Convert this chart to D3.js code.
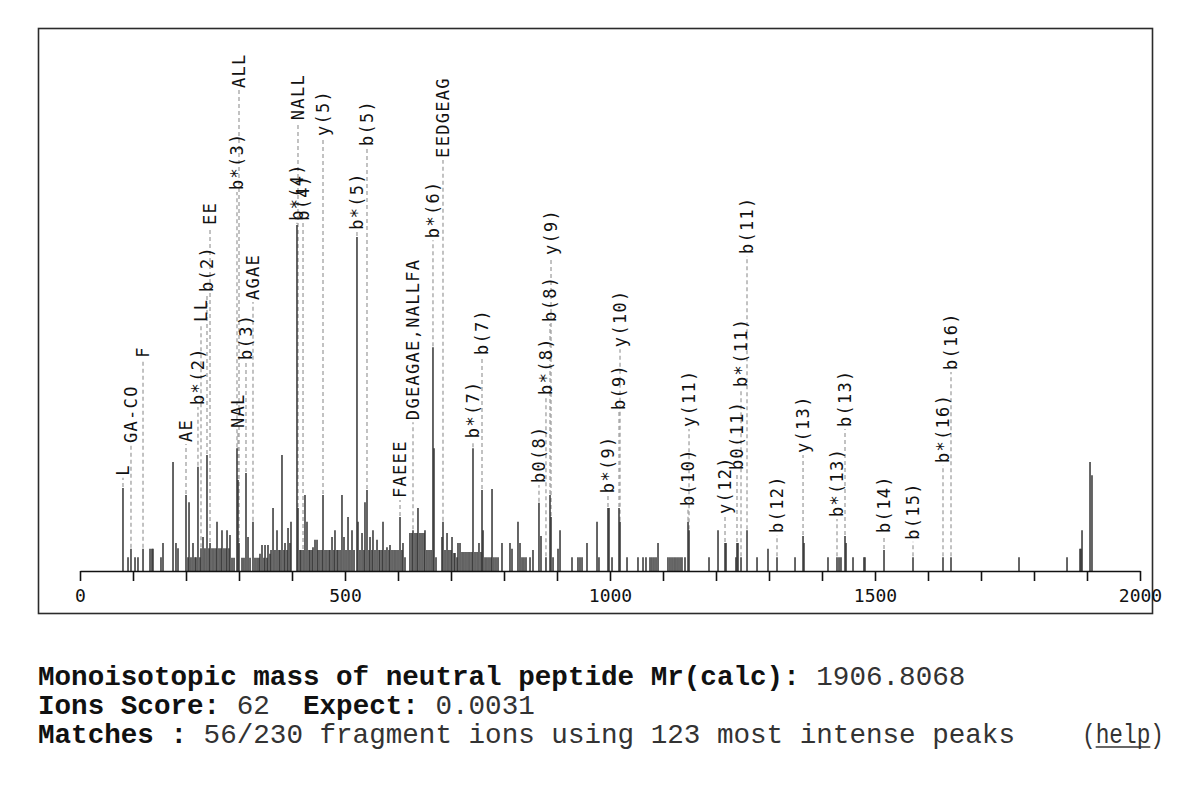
<!DOCTYPE html>
<html><head><meta charset="utf-8">
<script src="https://cdn.jsdelivr.net/npm/d3@7"></script>
<style>
html,body{margin:0;padding:0;background:#fff;}
svg{display:block;}
</style></head><body>
<svg id="chart" width="1200" height="790"></svg>
<script>
// m/z and relative intensity (% of base peak) of each fragment peak
const peaks = [
[81.1,24.0],[90.6,4.0],[96.2,6.4],[103.8,4.0],[109.4,4.0],[118.9,6.4],[132.1,6.4],[135.8,6.4],[137.7,6.4],[152.8,4.0],[156.6,8.1],[175.5,31.5],[181.1,8.1],[184.9,6.6],
[200.0,22.0],[203.8,4.0],[205.7,19.9],[209.4,4.0],[213.2,8.1],[217.0,4.0],[218.9,4.0],[222.6,30.1],[226.4,4.0],[228.3,6.6],[232.1,9.8],[235.8,6.6],[239.6,33.5],[243.4,6.6],[245.3,8.1],[249.1,6.6],[252.8,6.6],[256.6,6.6],[258.5,14.2],[262.3,6.6],[266.0,6.6],[267.9,11.8],[271.7,6.6],[275.5,6.6],[277.4,11.8],[281.1,6.6],[283.0,10.4],[286.8,3.8],[290.6,3.8],
[296.2,35.5],[298.1,26.3],[300.0,8.1],[305.7,3.8],[309.4,3.8],[313.2,28.3],[317.0,9.8],[320.8,3.8],[326.4,14.2],[330.2,3.8],[334.0,3.8],[337.7,3.8],[339.6,5.0],[343.4,7.5],[347.2,3.8],[349.1,7.5],[352.8,3.8],[354.7,7.5],[358.5,5.0],[360.4,6.1],[364.2,18.2],[367.9,6.1],[371.7,11.8],[375.5,6.1],[377.4,6.1],[381.1,33.5],[384.9,6.1],[386.8,8.1],[390.6,6.1],[392.5,12.4],[396.2,8.1],[398.1,14.2],
[409.4,100],[411.3,18.2],[415.1,6.1],[417.0,6.1],[420.8,6.1],[424.5,22.0],[428.3,14.2],[432.1,6.1],[434.0,6.1],[437.7,6.1],[439.6,6.9],[443.4,9.0],[447.2,9.0],[449.1,6.1],[452.8,6.1],[456.6,6.1],[458.5,22.0],[462.3,6.1],[466.0,6.1],[469.8,6.1],[471.7,6.1],[475.5,9.8],[479.2,6.1],[481.1,11.8],[484.9,6.1],[486.8,6.1],[490.6,6.1],[494.3,22.0],[498.1,9.8],[501.9,6.1],[505.7,15.6],[509.4,6.1],[513.2,11.8],[517.0,6.1],
[522.6,96.5],[524.5,14.2],[528.3,6.1],[532.1,11.0],[535.8,6.1],[537.7,19.9],[541.5,23.4],[545.3,6.1],[547.2,9.8],[550.9,6.1],[552.8,11.8],[556.6,6.1],[560.4,9.0],[564.2,6.1],[566.0,6.1],[569.8,6.1],[571.7,14.2],[575.5,6.1],[579.2,6.9],[583.0,6.1],[584.9,7.5],[588.7,6.1],[592.5,6.1],[596.2,6.1],[600.0,6.1],[603.8,15.6],[607.5,6.1],[609.4,8.1],[613.2,4.0],
[622.6,11.0],[626.4,11.0],[628.3,11.8],[632.1,11.0],[635.8,11.0],[637.7,18.2],[641.5,11.0],[645.3,11.0],[649.1,11.0],[650.9,11.8],[654.7,6.1],[658.5,6.1],[662.3,6.1],[666.0,64.7],[667.9,35.5],[671.7,4.0],
[683.0,9.8],[684.9,14.2],[688.7,6.1],[692.5,11.0],[696.2,6.1],[700.0,6.1],[701.9,9.8],[705.7,5.2],[707.5,5.2],[711.3,4.0],[713.2,8.1],[717.0,8.1],[720.8,5.5],[724.5,5.5],[728.3,5.5],[732.1,5.5],[735.8,5.5],[739.6,5.5],[741.5,35.5],[745.3,5.5],[749.1,5.5],[752.8,8.1],[756.6,5.5],[758.5,23.4],[760.4,11.8],[764.2,4.0],[767.9,4.0],[771.7,4.0],[775.5,4.0],[777.4,23.7],[781.1,4.0],[784.9,4.0],[788.7,4.0],
[796.2,8.1],[811.3,8.1],[815.1,6.4],[826.4,14.2],[830.2,8.1],[834.0,4.0],[837.7,4.0],[841.5,4.0],[849.1,4.0],[854.7,6.1],[866.0,19.7],[869.8,10.1],[879.2,4.0],[886.8,22.0],[888.7,15.6],[892.5,4.0],[901.9,6.4],[905.7,11.8],
[928.3,4.0],[939.6,4.0],[943.4,4.0],[947.2,4.0],[956.6,8.1],[975.5,14.2],[979.2,4.0],[996.2,18.2],[998.1,18.2],[1003.8,4.0],[1017.0,18.2],[1018.9,14.2],[1032.1,4.0],[1052.8,4.0],[1062.3,4.0],[1067.9,4.0],[1075.5,4.0],[1079.2,4.0],[1083.0,4.0],[1086.8,4.0],[1090.6,8.1],
[1109.4,4.0],[1113.2,4.0],[1117.0,4.0],[1120.8,4.0],[1124.5,4.0],[1128.3,4.0],[1132.1,4.0],[1135.8,4.0],[1141.5,4.0],[1147.2,14.2],[1149.1,11.8],[1186.8,4.0],[1203.8,11.8],[1217.0,8.1],[1218.9,8.1],[1237.7,4.0],[1239.6,8.1],[1241.5,8.1],[1247.2,4.0],[1258.5,11.8],[1277.4,4.0],[1298.1,6.4],[1315.1,4.0],[1349.1,4.0],[1364.2,10.1],[1366.0,8.1],
[1411.3,4.0],[1428.3,4.0],[1432.1,4.0],[1435.8,4.0],[1443.4,10.1],[1445.3,8.1],[1458.5,4.0],[1479.2,4.0],[1481.1,4.0],[1517.0,6.1],[1571.7,4.0],[1628.3,4.0],[1643.4,4.0],[1771.7,4.0],[1862.3,4.0],[1886.8,6.4],[1888.7,6.4],[1890.6,11.8],[1905.7,31.5],[1909.4,27.7]
];

// matched ion annotations: [m/z of peak, label, height (intensity units) where the label starts]
const ionLabels = [
[81.1,"L",27.5],[96.2,"GA-CO",37.0],[118.9,"F",61.6],[200.0,"AE",37.3],[222.6,"b*(2)",48.0],[228.3,"LL",72.0],[239.6,"b(2)",80.6],[245.3,"EE",100.0],
[296.2,"b*(3)",110.1],[298.1,"NAL",41.3],[300.0,"ALL",139.6],[313.2,"b(3)",61.0],[326.4,"AGAE",78.3],
[409.4,"b*(4)",101.2],[411.3,"NALL",130.3],[420.8,"b(4)",101.2],[458.5,"y(5)",125.7],[522.6,"b*(5)",98.6],[541.5,"b(5)",122.8],
[603.8,"FAEEE",21.1],[628.3,"DGEAGAE,NALLFA",43.6],[666.0,"b*(6)",96.2],[684.9,"EEDGEAG",119.4],[741.5,"b*(7)",38.4],[758.5,"b(7)",62.4],
[866.0,"b0(8)",25.4],[879.2,"b*(8)",50.9],[886.8,"b(8)",72.0],[888.7,"y(9)",91.3],[996.2,"b*(9)",22.5],[1017.0,"b(9)",46.5],[1018.9,"y(10)",64.7],
[1147.2,"b(10)",18.8],[1149.1,"y(11)",41.6],[1217.0,"y(12)",16.5],[1239.6,"b0(11)",29.2],[1247.2,"b*(11)",53.2],[1258.5,"b(11)",91.6],
[1315.1,"b(12)",11.0],[1364.2,"y(13)",34.1],[1428.3,"b*(13)",15.6],[1443.4,"b(13)",41.6],[1517.0,"b(14)",11.0],[1571.7,"b(15)",9.0],[1628.3,"b*(16)",31.2],[1643.4,"b(16)",58.1]
];

const xDomain = [0, 2000];
const xMinorTicks = [0,100,200,300,400,500,600,700,800,900,1000,1100,1200,1300,1400,1500,1600,1700,1800,1900,2000];
const xLabelTicks = [0, 500, 1000, 1500, 2000];

const summaryLines = [
  [["Monoisotopic mass of neutral peptide Mr(calc): ", true], ["1906.8068", false]],
  [["Ions Score: ", true], ["62", false], ["  Expect: ", true], ["0.0031", false]],
  [["Matches : ", true], ["56/230 fragment ions using 123 most intense peaks", false]]
];
const helpText = "(help)";

const svg = d3.select('#chart');
const x = d3.scaleLinear().domain(xDomain).range([80, 1140]);
const y = d3.scaleLinear().domain([0, 100]).range([571, 225]);

// frame
svg.append('rect').attr('x', 38.5).attr('y', 28.5).attr('width', 1114).attr('height', 585)
  .attr('fill', 'none').attr('stroke', '#2b2b2b').attr('stroke-width', 1.6);

const peakHeight = mz => {
  let best = peaks[0];
  peaks.forEach(p => { if (Math.abs(p[0] - mz) < Math.abs(best[0] - mz)) best = p; });
  return best[1];
};

// dashed leader lines
svg.append('g').selectAll('line').data(ionLabels).join('line')
  .attr('x1', d => x(d[0])).attr('x2', d => x(d[0]))
  .attr('y1', d => y(peakHeight(d[0])) - 1)
  .attr('y2', d => y(d[2]) + 2)
  .attr('stroke', '#9a9a9a').attr('stroke-width', 1.2)
  .attr('stroke-dasharray', '4,3');

// peaks
svg.append('g').selectAll('line').data(peaks).join('line')
  .attr('x1', d => x(d[0])).attr('x2', d => x(d[0]))
  .attr('y1', y(0)).attr('y2', d => y(d[1]))
  .attr('stroke', '#333').attr('stroke-width', 1.5);

// axis
const axis = d3.axisBottom(x).tickValues(xMinorTicks).tickSize(10).tickSizeOuter(0).tickPadding(8)
  .tickFormat(d => xLabelTicks.includes(d) ? String(d) : '');
const gAx = svg.append('g').attr('transform', `translate(0,${y(0)})`).call(axis);
gAx.select('.domain').attr('stroke', '#111').attr('stroke-width', 1.6);
gAx.selectAll('.tick line').attr('stroke', '#111').attr('stroke-width', 1.6);
gAx.selectAll('.tick text').attr('font-family', 'DejaVu Sans Mono, monospace').attr('font-size', 18).attr('fill', '#111');

// ion labels
svg.append('g').selectAll('text').data(ionLabels).join('text')
  .attr('transform', d => `translate(${x(d[0])},${y(d[2])}) rotate(-90)`)
  .attr('dy', '0.36em')
  .attr('font-family', 'DejaVu Sans Mono, monospace')
  .attr('font-size', 17).attr('letter-spacing', 1.3)
  .attr('fill', '#111')
  .text(d => d[1]);

// summary text
const lineY = [685, 714, 743];
summaryLines.forEach((parts, i) => {
  const t = svg.append('text').attr('x', 38).attr('y', lineY[i])
    .attr('font-family', 'Liberation Mono, Courier New, monospace').attr('font-size', 27.6)
    .attr('fill', '#111').attr('xml:space', 'preserve').style('white-space', 'pre');
  parts.forEach(p => t.append('tspan').attr('font-weight', p[1] ? 'bold' : 'normal')
    .attr('fill', p[1] ? '#111' : '#333').text(p[0]));
});
const helpX = 1082, helpW = 82;
svg.append('text').attr('x', helpX).attr('y', lineY[2])
  .attr('font-family', 'Liberation Mono, Courier New, monospace').attr('font-size', 27.6)
  .attr('fill', '#333').attr('textLength', helpW).attr('lengthAdjust', 'spacingAndGlyphs')
  .text(helpText);
svg.append('line')
  .attr('x1', helpX + helpW / 6).attr('x2', helpX + helpW * 5 / 6)
  .attr('y1', lineY[2] + 4).attr('y2', lineY[2] + 4)
  .attr('stroke', '#333').attr('stroke-width', 1.5);
</script>
</body></html>
